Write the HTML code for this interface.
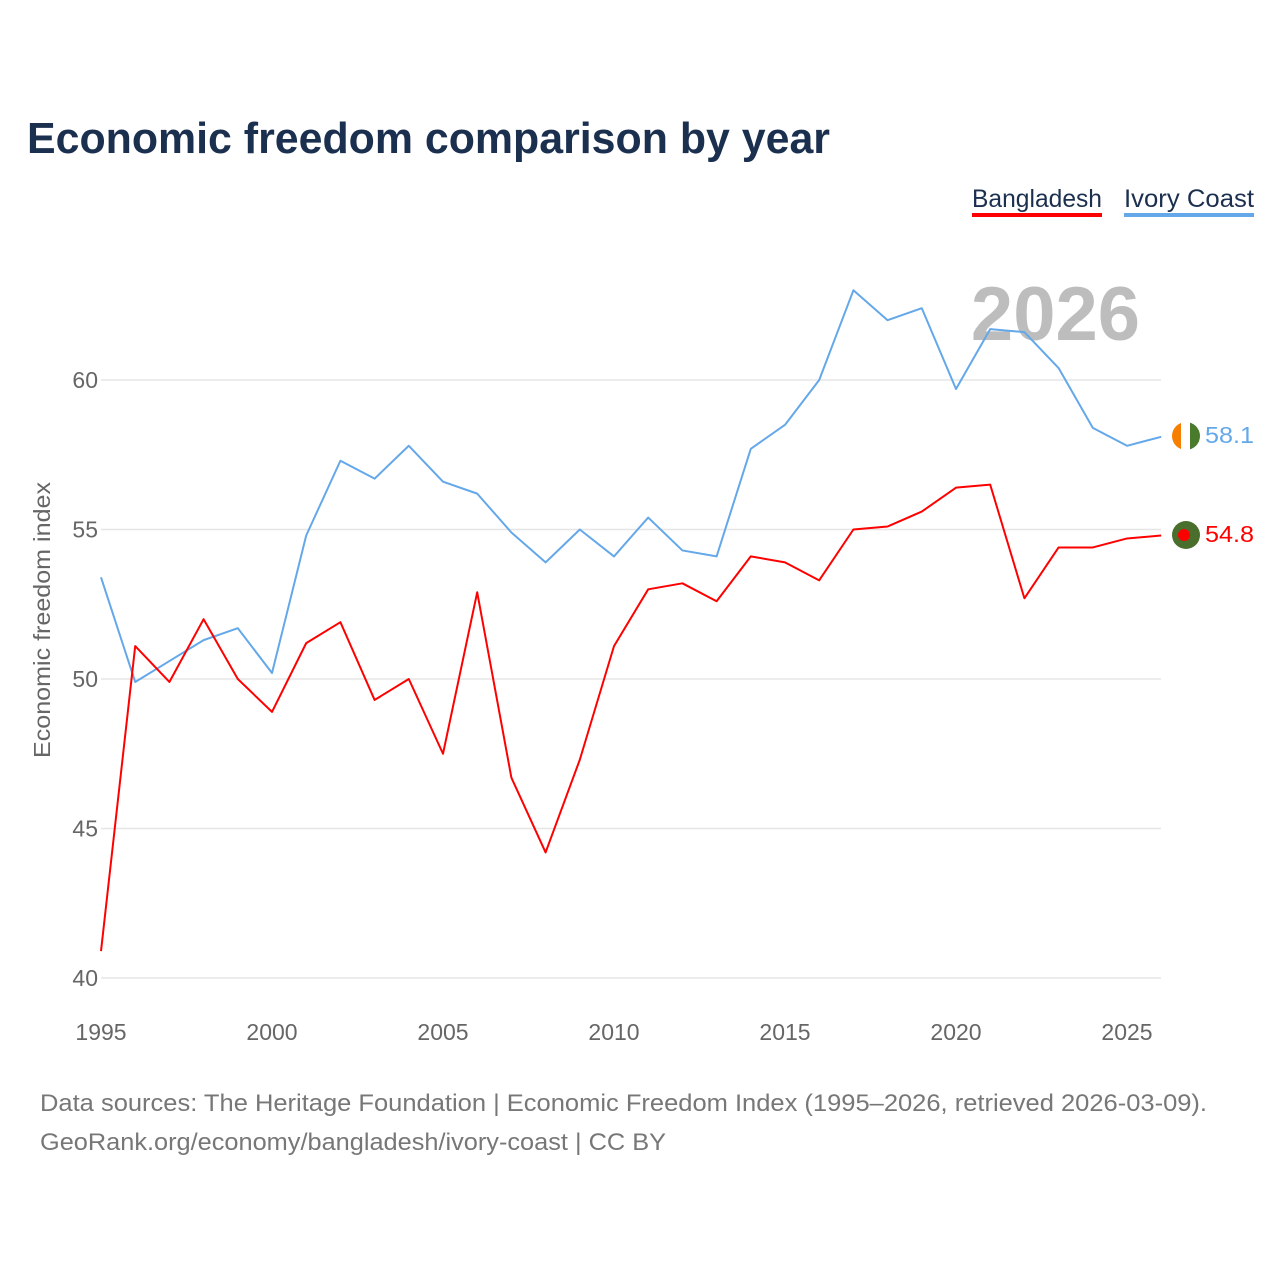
<!DOCTYPE html>
<html><head><meta charset="utf-8"><style>
html,body{margin:0;padding:0;background:#fff;width:1280px;height:1280px;overflow:hidden}
svg{font-family:"Liberation Sans",sans-serif}
</style></head><body>
<svg width="1280" height="1280" id="chart">
<text x="27" y="153" font-size="44" font-weight="bold" fill="#1b2f4f" textLength="803" lengthAdjust="spacingAndGlyphs">Economic freedom comparison by year</text>
<g>
<text x="972" y="207" font-size="25" fill="#1b2f4f" textLength="130" lengthAdjust="spacingAndGlyphs">Bangladesh</text>
<rect x="972" y="213" width="130" height="4" fill="#ff0000"/>
<text x="1124" y="207" font-size="25" fill="#1b2f4f" textLength="130" lengthAdjust="spacingAndGlyphs">Ivory Coast</text>
<rect x="1124" y="213" width="130" height="4" fill="#64a8ea"/>
</g>
<text x="1140" y="340" font-size="76" font-weight="bold" fill="#bdbdbd" text-anchor="end">2026</text>
<g id="grid"></g>
<g id="xaxis"></g>
<text transform="translate(50,620) rotate(-90)" font-size="23" fill="#666" text-anchor="middle" textLength="276" lengthAdjust="spacingAndGlyphs">Economic freedom index</text>
<g id="series"></g>
<g>
<clipPath id="c1"><circle cx="1186" cy="436" r="14"/></clipPath>
<g clip-path="url(#c1)"><rect x="1172" y="422" width="10" height="28" fill="#f77f00"/><rect x="1181" y="422" width="10" height="28" fill="#fff"/><rect x="1190" y="422" width="10" height="28" fill="#4a7a2c"/></g>
</g>
<g>
<circle cx="1186" cy="535" r="14" fill="#4a6e2c"/><circle cx="1184" cy="535" r="6" fill="#f00"/>
</g>
<text x="1205" y="443" font-size="23" fill="#64a8ea" textLength="49" lengthAdjust="spacingAndGlyphs">58.1</text>
<text x="1205" y="542" font-size="23" fill="#ff0000" textLength="49" lengthAdjust="spacingAndGlyphs">54.8</text>
<text x="40" y="1111" font-size="24" fill="#777" textLength="1167" lengthAdjust="spacingAndGlyphs">Data sources: The Heritage Foundation | Economic Freedom Index (1995–2026, retrieved 2026-03-09).</text>
<text x="40" y="1150" font-size="24" fill="#777" textLength="626" lengthAdjust="spacingAndGlyphs">GeoRank.org/economy/bangladesh/ivory-coast | CC BY</text>
</svg>
<script>
const years = [1995,1996,1997,1998,1999,2000,2001,2002,2003,2004,2005,2006,2007,2008,2009,2010,2011,2012,2013,2014,2015,2016,2017,2018,2019,2020,2021,2022,2023,2024,2025,2026];
const bangladesh = [40.9,51.1,49.9,52.0,50.0,48.9,51.2,51.9,49.3,50.0,47.5,52.9,46.7,44.2,47.3,51.1,53.0,53.2,52.6,54.1,53.9,53.3,55.0,55.1,55.6,56.4,56.5,52.7,54.4,54.4,54.7,54.8];
const ivoryCoast = [53.4,49.9,50.6,51.3,51.7,50.2,54.8,57.3,56.7,57.8,56.6,56.2,54.9,53.9,55.0,54.1,55.4,54.3,54.1,57.7,58.5,60.0,63.0,62.0,62.4,59.7,61.7,61.6,60.4,58.4,57.8,58.1];
const yTicks = [40,45,50,55,60];
const xTicks = [1995,2000,2005,2010,2015,2020,2025];
const NS="http://www.w3.org/2000/svg";
const x = v => 101 + (v-1995)*(1026/30);
const y = v => 978 - (v-40)*(598/20);
const grid=document.getElementById('grid'), xa=document.getElementById('xaxis'), ser=document.getElementById('series');
yTicks.forEach(t=>{
  const l=document.createElementNS(NS,'line');
  l.setAttribute('x1',101);l.setAttribute('x2',1161);l.setAttribute('y1',y(t));l.setAttribute('y2',y(t));
  l.setAttribute('stroke','#e6e6e6');l.setAttribute('stroke-width','1.5');
  
  
  grid.appendChild(l);
  const tx=document.createElementNS(NS,'text');
  tx.setAttribute('x',98);tx.setAttribute('y',y(t)+8);tx.setAttribute('text-anchor','end');
  tx.setAttribute('font-size','23');tx.setAttribute('fill','#666');tx.textContent=t;
  
  
  grid.appendChild(tx);
});
xTicks.forEach(t=>{
  const tx=document.createElementNS(NS,'text');
  tx.setAttribute('x',x(t));tx.setAttribute('y',1040);tx.setAttribute('text-anchor','middle');
  tx.setAttribute('font-size','23');tx.setAttribute('fill','#666');tx.textContent=t;
  
  
  xa.appendChild(tx);
});
function line(vals,color,name){
  const p=document.createElementNS(NS,'polyline');
  p.setAttribute('points',vals.map((v,i)=>x(years[i])+','+y(v)).join(' '));
  p.setAttribute('fill','none');p.setAttribute('stroke',color);p.setAttribute('stroke-width','2');
  p.setAttribute('stroke-linejoin','round');
  
  
  ser.appendChild(p);
}
line(ivoryCoast,'#64a8ea','ivory-coast-line');
line(bangladesh,'#ff0000','bangladesh-line');
</script>
</body></html>
